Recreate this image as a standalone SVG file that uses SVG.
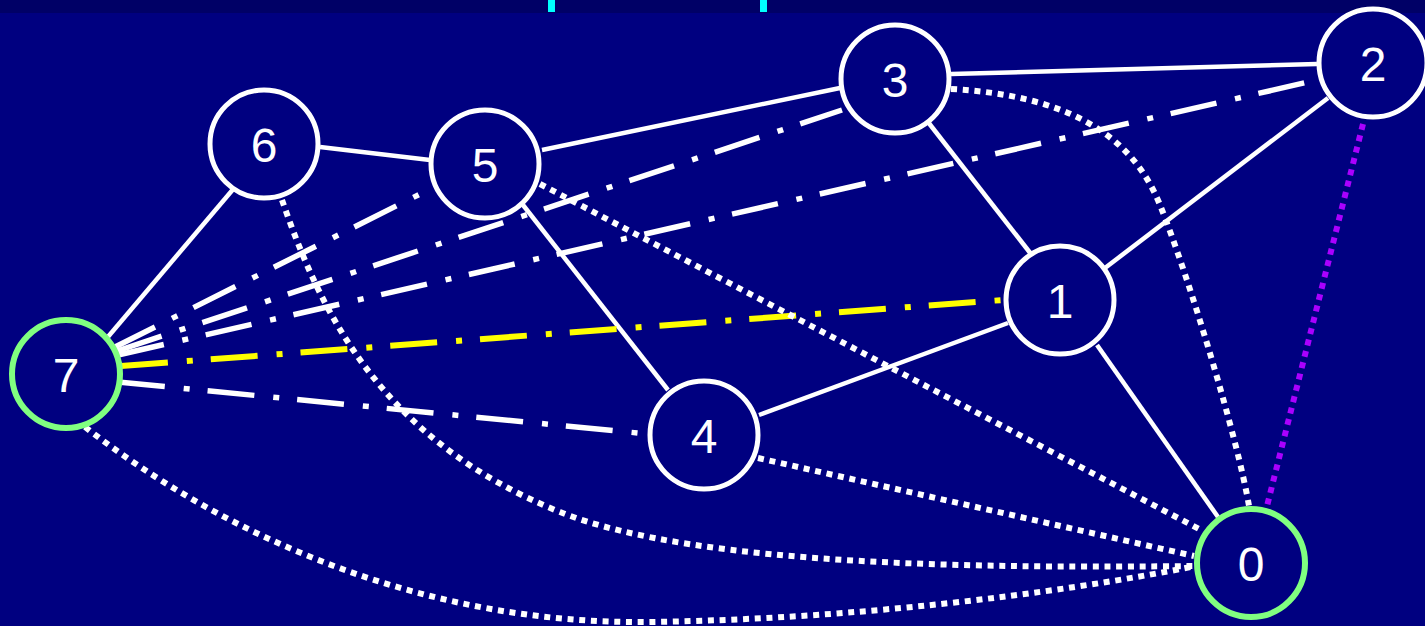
<svg xmlns="http://www.w3.org/2000/svg" width="1425" height="626" viewBox="0 0 1425 626">
<style>
.solid{stroke:#fff;stroke-width:4.5;fill:none}
.dd{stroke:#fff;stroke-width:5.5;fill:none;stroke-dasharray:47 19 6 18}
.ddy{stroke:#ffff00;stroke-width:6;fill:none;stroke-dasharray:47 19 6 18}
.dot{stroke:#fff;stroke-width:6;fill:none;stroke-dasharray:6 5.7}
.dotp{stroke:#aa00ff;stroke-width:6;fill:none;stroke-dasharray:6 5.7}
.node circle{fill:#000080;stroke:#fff;stroke-width:5}
.node.g circle{stroke:#80ff80;stroke-width:6}
.node text{fill:#fff;font-family:"Liberation Sans",Arial,sans-serif;font-size:48px;text-anchor:middle}
</style>
<rect x="0" y="0" width="1425" height="626" fill="#000080"/>
<rect x="0" y="0" width="1425" height="13" fill="#000066"/>
<rect x="548" y="0" width="7" height="12" fill="#00ffff"/>
<rect x="760" y="0" width="7" height="12" fill="#00ffff"/>
<g id="connectors">
<path class="solid" d="M320,147 L430,160"/>
<path class="solid" d="M235,187 L107,338"/>
<path class="solid" d="M542,150 L840,88"/>
<path class="solid" d="M523,205 L668,390"/>
<path class="solid" d="M951,74 L1317,64"/>
<path class="solid" d="M928,122 L1031,254"/>
<path class="solid" d="M1328,98 L1105,268"/>
<path class="solid" d="M1008,323 L759,415"/>
<path class="solid" d="M1097,345 L1218,517"/>
<path class="dd" d="M113,348 L432,188"/>
<path class="dd" d="M117,351 L842,110"/>
<path class="dd" d="M118,355 L1317,80"/>
<path class="ddy" d="M121,366 L1003,300"/>
<path class="dd" d="M118,382 L648,434"/>
<path class="dot" d="M951,89 C1060,95 1130,130 1160,205 C1190,280 1238,440 1249,506"/>
<path class="dot" d="M540,184 L1201,530"/>
<path class="dot" d="M282,200 C320,310 380,440 560,512 C700,568 1000,568 1196,566"/>
<path class="dot" d="M758,458 L1194,556"/>
<path class="dot" d="M85,427 C230,540 430,625 650,622 C850,619 1050,595 1196,566"/>
<path class="dotp" d="M1363,124 L1265,514"/>
</g>
<g id="node-0" class="node g"><circle cx="1251" cy="563" r="54"/><text x="1251" y="581">0</text></g>
<g id="node-1" class="node"><circle cx="1060" cy="300" r="54"/><text x="1060" y="318">1</text></g>
<g id="node-2" class="node"><circle cx="1373" cy="63" r="54"/><text x="1373" y="81">2</text></g>
<g id="node-3" class="node"><circle cx="895" cy="79" r="54"/><text x="895" y="97">3</text></g>
<g id="node-4" class="node"><circle cx="704" cy="435" r="54"/><text x="704" y="453">4</text></g>
<g id="node-5" class="node"><circle cx="485" cy="164" r="54"/><text x="485" y="182">5</text></g>
<g id="node-6" class="node"><circle cx="264" cy="144" r="54"/><text x="264" y="162">6</text></g>
<g id="node-7" class="node g"><circle cx="66" cy="374" r="54"/><text x="66" y="392">7</text></g>
</svg>
